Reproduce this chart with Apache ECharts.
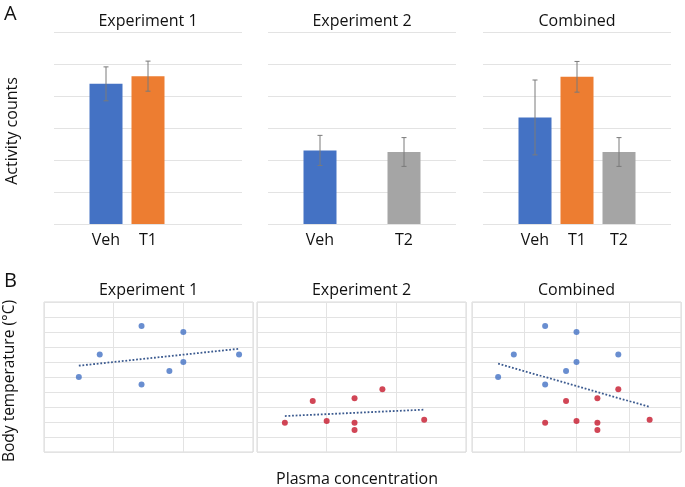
<!DOCTYPE html>
<html>
<head>
<meta charset="utf-8">
<script src="https://cdn.jsdelivr.net/npm/echarts@6/dist/echarts.min.js"></script>
<style>
  html, body { margin: 0; padding: 0; background: #fff; }
  #chart { width: 685px; height: 487px; }
</style>
</head>
<body>
<div id="chart"></div>
<script>
// Panel A: activity counts (mean, error)
const panelTitles = ['Experiment 1', 'Experiment 2', 'Combined'];
const barCats = [['Veh', 'T1', ''], ['Veh', '', 'T2'], ['Veh', 'T1', 'T2']];
const barValues = [[4.38, 4.62, null], [2.30, null, 2.25], [3.33, 4.60, 2.25]];
const barErrors = [[0.53, 0.47, null], [0.47, null, 0.45], [1.17, 0.48, 0.45]];
const barColors = ['#4472C4', '#ED7D31', '#A5A5A5'];

// Panel B: plasma concentration vs body temperature
const blueX = [0.5, 0.8, 1.4, 1.4, 1.8, 2.0, 2.0, 2.8];
const blueY = [5.0, 6.5, 8.4, 4.5, 5.4, 8.0, 6.0, 6.5];
const redX = [1.4, 1.8, 2.0, 2.4, 2.4, 2.4, 2.8, 3.4];
const redY = [1.95, 3.4, 2.07, 3.58, 1.95, 1.47, 4.18, 2.15];
const scatterRanges = [[0, 3], [1, 4], [0, 4]];

const font = '"Open Sans", sans-serif';
const gridColor = '#e3e3e3';

function pairs(xs, ys) {
    return xs.map((x, i) => [x, ys[i]]);
}

function trend(points) {
    const n = points.length;
    const mx = points.reduce((s, p) => s + p[0], 0) / n;
    const my = points.reduce((s, p) => s + p[1], 0) / n;
    let sxy = 0, sxx = 0;
    points.forEach(p => {
        sxy += (p[0] - mx) * (p[1] - my);
        sxx += (p[0] - mx) * (p[0] - mx);
    });
    const slope = sxy / sxx;
    const xs = points.map(p => p[0]);
    const x0 = Math.min(...xs), x1 = Math.max(...xs);
    return [[x0, my + slope * (x0 - mx)], [x1, my + slope * (x1 - mx)]];
}

const chart = echarts.init(document.getElementById('chart'));

const bgLeft = [54, 268, 483];
const bgWidth = 188;
const barWidthGrid = 126;
const scLeft = [44, 257, 472];
const scWidth = 209;

const grid = [], xAxis = [], yAxis = [], series = [], graphic = [];

// panel A
for (let i = 0; i < 3; i++) {
    // background grid with split lines
    grid.push({ left: bgLeft[i], top: 32, width: bgWidth, height: 192 });
    const g0 = grid.length - 1;
    xAxis.push({ type: 'value', gridIndex: g0, show: false, min: 0, max: 1 });
    yAxis.push({
        type: 'value', gridIndex: g0, min: 0, max: 6, interval: 1,
        axisLabel: { show: false }, axisLine: { show: false }, axisTick: { show: false },
        splitLine: { lineStyle: { color: gridColor, width: 1 } }
    });
    // bar grid
    grid.push({ left: bgLeft[i] + (bgWidth - barWidthGrid) / 2, top: 32, width: barWidthGrid, height: 192 });
    const g1 = grid.length - 1;
    xAxis.push({
        type: 'category', gridIndex: g1, data: barCats[i],
        axisLine: { show: false }, axisTick: { show: false },
        axisLabel: { color: '#111', fontSize: 16, fontFamily: font, margin: 8, interval: 0 }
    });
    yAxis.push({ type: 'value', gridIndex: g1, min: 0, max: 6, show: false });
    const ax = xAxis.length - 1;
    series.push({
        type: 'bar', xAxisIndex: ax, yAxisIndex: ax, barWidth: 33,
        data: barValues[i].map((v, j) => ({ value: v, itemStyle: { color: barColors[j] } })),
        silent: true
    });
    series.push({
        type: 'custom', xAxisIndex: ax, yAxisIndex: ax, silent: true, z: 5,
        data: barValues[i].map((v, j) => v == null ? [j, null, null] : [j, v - barErrors[i][j], v + barErrors[i][j]])
            .filter(d => d[1] != null),
        renderItem: (params, api) => {
            const lo = api.coord([api.value(0), api.value(1)]);
            const hi = api.coord([api.value(0), api.value(2)]);
            const c = 2.5;
            const st = { stroke: '#7a7a7a', lineWidth: 1 };
            return {
                type: 'group', children: [
                    { type: 'line', shape: { x1: lo[0], y1: lo[1], x2: hi[0], y2: hi[1] }, style: st },
                    { type: 'line', shape: { x1: lo[0] - c, y1: lo[1], x2: lo[0] + c, y2: lo[1] }, style: st },
                    { type: 'line', shape: { x1: hi[0] - c, y1: hi[1], x2: hi[0] + c, y2: hi[1] }, style: st }
                ]
            };
        }
    });
    graphic.push({
        type: 'text', x: bgLeft[i] + bgWidth / 2, y: 21,
        style: { text: panelTitles[i], fill: '#111', font: '16px ' + font, align: 'center', verticalAlign: 'middle' }
    });
}

// panel B
const blue = pairs(blueX, blueY);
const red = pairs(redX, redY);
const scatterSets = [[blue], [red], [blue, red]];
const scatterColors = [['#4472C4'], ['#C5182C'], ['#4472C4', '#C5182C']];
for (let i = 0; i < 3; i++) {
    grid.push({
        left: scLeft[i], top: 302, width: scWidth, height: 150,
        show: true, borderColor: '#d9d9d9', borderWidth: 1
    });
    const g = grid.length - 1;
    xAxis.push({
        type: 'value', gridIndex: g, min: scatterRanges[i][0], max: scatterRanges[i][1], interval: 1,
        axisLabel: { show: false }, axisLine: { show: false }, axisTick: { show: false },
        splitLine: { lineStyle: { color: gridColor } }
    });
    yAxis.push({
        type: 'value', gridIndex: g, min: 0, max: 10, interval: 1,
        axisLabel: { show: false }, axisLine: { show: false }, axisTick: { show: false },
        splitLine: { lineStyle: { color: gridColor } }
    });
    const ax = xAxis.length - 1;
    scatterSets[i].forEach((pts, k) => {
        series.push({
            type: 'scatter', xAxisIndex: ax, yAxisIndex: ax, data: pts, symbolSize: 6,
            itemStyle: { color: scatterColors[i][k] }, silent: true, z: 3
        });
    });
    const all = [].concat(...scatterSets[i]);
    series.push({
        type: 'line', xAxisIndex: ax, yAxisIndex: ax, data: trend(all), showSymbol: false, silent: true,
        lineStyle: { color: '#3b5a8f', width: 1.8, type: [1.8, 1.8] }, z: 2
    });
    graphic.push({
        type: 'text', x: scLeft[i] + scWidth / 2, y: 290,
        style: { text: panelTitles[i], fill: '#111', font: '16px ' + font, align: 'center', verticalAlign: 'middle' }
    });
}

graphic.push(
    { type: 'text', x: 4, y: 14, style: { text: 'A', fill: '#111', font: '20px ' + font, verticalAlign: 'middle' } },
    { type: 'text', x: 4, y: 281, style: { text: 'B', fill: '#111', font: '20px ' + font, verticalAlign: 'middle' } },
    {
        type: 'text', x: 12, y: 131, rotation: Math.PI / 2,
        style: { text: 'Activity counts', fill: '#111', font: '16px ' + font, align: 'center', verticalAlign: 'middle' }
    },
    {
        type: 'text', x: 10, y: 381, rotation: Math.PI / 2,
        style: { text: 'Body temperature (°C)', fill: '#111', font: '15.5px ' + font, align: 'center', verticalAlign: 'middle' }
    },
    {
        type: 'text', x: 357, y: 479,
        style: { text: 'Plasma concentration', fill: '#111', font: '16px ' + font, align: 'center', verticalAlign: 'middle' }
    }
);

chart.setOption({
    animation: false,
    backgroundColor: '#fff',
    grid: grid,
    xAxis: xAxis,
    yAxis: yAxis,
    series: series,
    graphic: graphic
});
</script>
</body>
</html>
